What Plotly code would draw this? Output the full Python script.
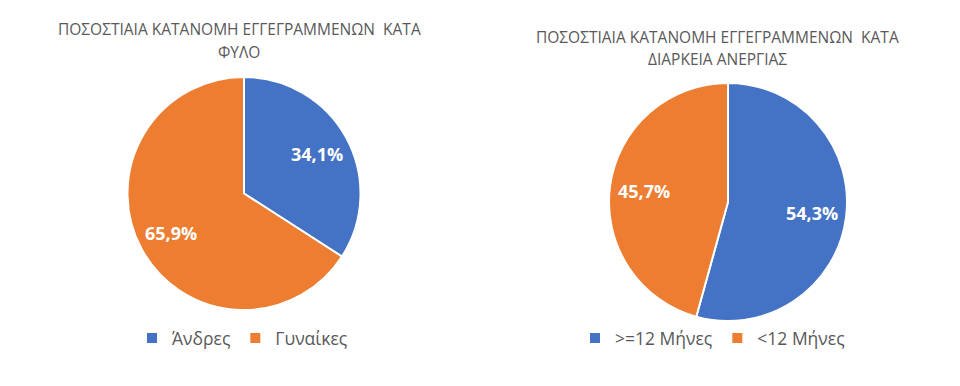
import math
import plotly.graph_objects as go

W, H = 960, 386
OFF = 8  # browser body margin

gender_labels = ["Άνδρες", "Γυναίκες"]
gender_values = [34.1, 65.9]

duration_labels = [">=12 Μήνες", "<12 Μήνες"]
duration_values = [54.3, 45.7]

title_left = ["ΠΟΣΟΣΤΙΑΙΑ ΚΑΤΑΝΟΜΗ ΕΓΓΕΓΡΑΜΜΕΝΩΝ  ΚΑΤΑ", "ΦΥΛΟ"]
title_right = ["ΠΟΣΟΣΤΙΑΙΑ ΚΑΤΑΝΟΜΗ ΕΓΓΕΓΡΑΜΜΕΝΩΝ  ΚΑΤΑ", "ΔΙΑΡΚΕΙΑ ΑΝΕΡΓΙΑΣ"]

colors = ["#4472C4", "#ED7D31"]
FONT = "Open Sans, Liberation Sans, sans-serif"
GRAY = "#595959"


def fx(px):
    return (px - OFF) / W


def fy(py):
    return 1 - (py - OFF) / H


# pie boxes in image pixels: (left, top, right, bottom)
left_box = (127, 77, 361, 310)
right_box = (607, 83, 849, 321)


def add_pie(labels, values, box, legend):
    l, t, r, b = box
    fig.add_trace(go.Pie(
        labels=labels, values=values,
        sort=False, direction="clockwise", rotation=0,
        marker=dict(colors=colors, line=dict(color="white", width=2)),
        textinfo="none",
        domain=dict(x=[fx(l), fx(r)], y=[fy(b), fy(t)]),
        legend=legend, hoverinfo="label+percent",
    ))
    # percentage labels placed radially at each slice's mid-angle
    cx, cy = (l + r) / 2, (t + b) / 2
    rad = min(r - l, b - t) / 2
    total = sum(values)
    cum = 0.0
    anns = []
    for v in values:
        mid = (cum + v / 2) / total * 2 * math.pi
        cum += v
        px = cx + 0.71 * rad * math.sin(mid)
        py = cy - 0.71 * rad * math.cos(mid)
        anns.append(dict(
            text=f"{v / total * 100:.1f}%".replace(".", ","),
            x=fx(px), y=fy(py), xref="paper", yref="paper",
            showarrow=False, xanchor="center", yanchor="middle",
            font=dict(family=FONT, size=18, color="white", weight="bold"),
        ))
    return anns


fig = go.Figure()
annotations = []
annotations += add_pie(gender_labels, gender_values, left_box, "legend")
annotations += add_pie(duration_labels, duration_values, right_box, "legend2")


def title_anns(lines, cx, y1, y2):
    out = []
    for line, yy in zip(lines, (y1, y2)):
        out.append(dict(text=line, x=fx(cx), y=fy(yy), xref="paper", yref="paper",
                        showarrow=False, xanchor="center", yanchor="middle",
                        font=dict(family=FONT, size=15.5, color=GRAY)))
    return out


annotations += title_anns(title_left, 239, 29, 52)
annotations += title_anns(title_right, 717, 37, 59)

legend_style = dict(orientation="h", yanchor="middle", xanchor="left",
                    font=dict(family=FONT, size=17.5, color=GRAY), itemwidth=30,
                    bgcolor="rgba(0,0,0,0)")

fig.update_layout(
    width=W, height=H,
    margin=dict(l=0, r=0, t=0, b=0),
    paper_bgcolor="white", plot_bgcolor="white",
    separators=",.",
    font=dict(family=FONT, color=GRAY),
    legend=dict(x=fx(132), y=fy(338), **legend_style),
    legend2=dict(x=fx(575), y=fy(338), **legend_style),
    annotations=annotations,
)

fig.write_html("out.html")
